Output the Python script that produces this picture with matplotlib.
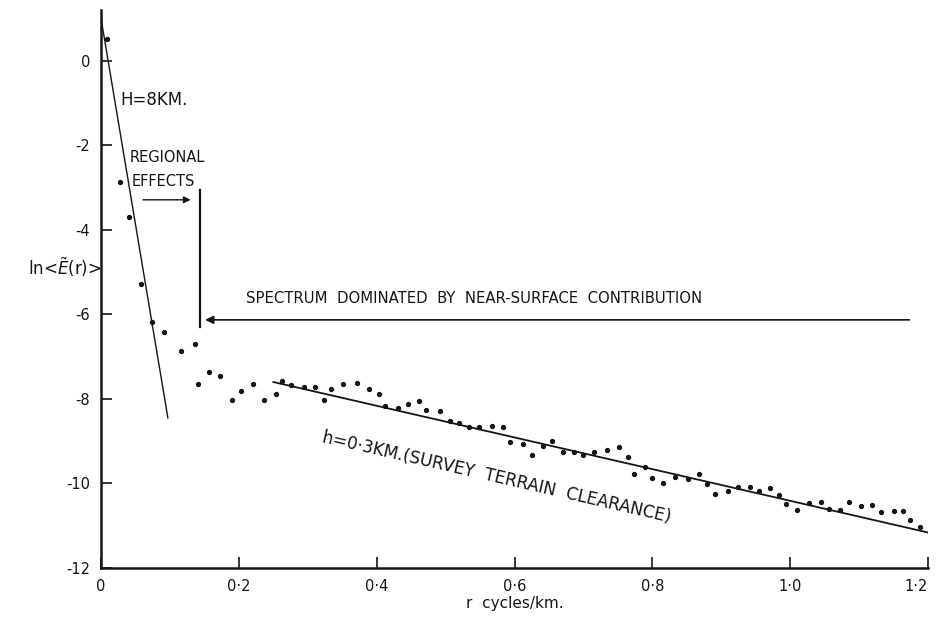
import numpy as np
import matplotlib
matplotlib.use("Agg")
import matplotlib.pyplot as plt

# DATA
r_pts = [0.008, 0.028, 0.041, 0.058, 0.074, 0.091, 0.116, 0.137, 0.141, 0.157,
         0.173, 0.190, 0.203, 0.220, 0.236, 0.254, 0.262, 0.276, 0.294, 0.311,
         0.324, 0.334, 0.351, 0.372, 0.389, 0.403, 0.412, 0.431, 0.446, 0.461,
         0.472, 0.492, 0.507, 0.520, 0.534, 0.549, 0.567, 0.583, 0.593, 0.613,
         0.626, 0.642, 0.655, 0.670, 0.686, 0.700, 0.715, 0.734, 0.752, 0.764,
         0.773, 0.790, 0.800, 0.816, 0.833, 0.851, 0.867, 0.879, 0.891, 0.910,
         0.925, 0.942, 0.955, 0.971, 0.984, 0.994, 1.010, 1.028, 1.044, 1.056,
         1.072, 1.085, 1.103, 1.119, 1.132, 1.150, 1.164, 1.174, 1.189]
lnE_pts = [0.52, -2.86, -3.70, -5.28, -6.17, -6.41, -6.86, -6.71, -7.64, -7.37,
           -7.46, -8.03, -7.82, -7.65, -8.03, -7.88, -7.57, -7.66, -7.71, -7.72,
           -8.03, -7.77, -7.64, -7.62, -7.76, -7.88, -8.16, -8.22, -8.13, -8.06,
           -8.26, -8.28, -8.53, -8.56, -8.66, -8.66, -8.64, -8.67, -9.01, -9.07,
           -9.33, -9.12, -8.99, -9.25, -9.26, -9.32, -9.26, -9.20, -9.14, -9.37,
           -9.78, -9.60, -9.86, -10.00, -9.85, -9.89, -9.78, -10.02, -10.26, -10.17,
           -10.09, -10.08, -10.18, -10.11, -10.27, -10.49, -10.63, -10.47, -10.44, -10.60,
           -10.63, -10.43, -10.53, -10.52, -10.67, -10.65, -10.66, -10.87, -11.02]

# fitted lines (end points)
r_deep = [0.0, 0.097]
lnE_deep = [1.0, -8.45]
r_shallow = [0.25, 1.2]
lnE_shallow = [-7.60, -11.16]

x_ticks = [0, 0.2, 0.4, 0.6, 0.8, 1.0, 1.2]
x_labels = ["0", "0·2", "0·4", "0·6", "0·8", "1·0", "1·2"]
y_ticks = [0, -2, -4, -6, -8, -10, -12]
y_labels = ["0", "-2", "-4", "-6", "-8", "-10", "-12"]

ink = "#151515"

fig = plt.figure(figsize=(9.39, 6.17), dpi=100)
ax = fig.add_axes([0.1076, 0.0794, 0.8807, 0.9044])

ax.plot(r_pts, lnE_pts, "o", color=ink, ms=2.8)
ax.plot(r_deep, lnE_deep, color=ink, lw=1.0)
ax.plot(r_shallow, lnE_shallow, color=ink, lw=1.3)

ax.set_xlim(0, 1.2)
ax.set_ylim(-12, 1.2)
ax.set_xticks(x_ticks)
ax.set_xticklabels(x_labels)
ax.set_yticks(y_ticks)
ax.set_yticklabels(y_labels)
ax.tick_params(direction="in", length=8, width=1.2, colors=ink, labelsize=10.5, pad=8)
# keep the last x label inside the figure
ax.get_xticklabels()[-1].set_horizontalalignment("right")
ax.get_xticklabels()[-1].set_x(1.2)
for s in ["top", "right"]:
    ax.spines[s].set_visible(False)
for s in ["left", "bottom"]:
    ax.spines[s].set_linewidth(1.8)
    ax.spines[s].set_color(ink)

ax.set_xlabel("r  cycles/km.", fontsize=11, color=ink, labelpad=1)
fig.text(0.030, 0.566, r"ln<$\tilde{E}$(r)>", fontsize=12, color=ink,
         ha="left", va="center")

# annotations
ax.text(0.028, -0.92, "H=8KM.", fontsize=12, color=ink, ha="left", va="center")
ax.text(0.042, -2.30, "REGIONAL", fontsize=10.5, color=ink, ha="left", va="center")
ax.text(0.045, -2.86, "EFFECTS", fontsize=10.5, color=ink, ha="left", va="center")
ax.annotate("", xy=(0.134, -3.29), xytext=(0.057, -3.29),
            arrowprops=dict(arrowstyle="-|>", color=ink, lw=1.0,
                            mutation_scale=10))
ax.plot([0.144, 0.144], [-3.05, -6.30], color=ink, lw=1.6)
ax.annotate("", xy=(0.147, -6.13), xytext=(1.177, -6.13),
            arrowprops=dict(arrowstyle="-|>", color=ink, lw=1.2,
                            mutation_scale=12))
ax.text(0.541, -5.62, "SPECTRUM  DOMINATED  BY  NEAR-SURFACE  CONTRIBUTION",
        fontsize=10.7, color=ink, ha="center", va="center")
ax.text(0.322, -8.90, "h=0·3KM.(SURVEY  TERRAIN  CLEARANCE)", fontsize=12.2,
        color=ink, ha="left", va="center", rotation=-13, rotation_mode="anchor")

plt.savefig("out.png", dpi=100)
